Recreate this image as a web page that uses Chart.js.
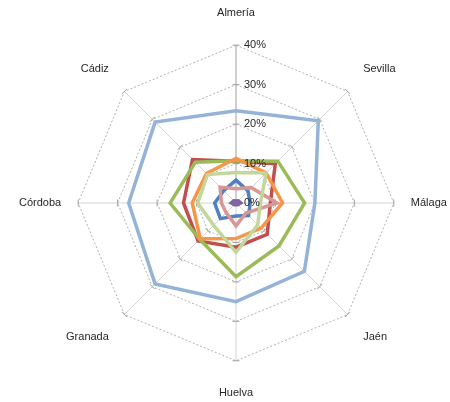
<!DOCTYPE html>
<html>
<head>
<meta charset="utf-8">
<script src="https://cdn.jsdelivr.net/npm/chart.js@4.4.1/dist/chart.umd.min.js"></script>
<style>
  html, body { margin: 0; padding: 0; background: #fff; }
  #wrap { width: 450px; height: 402px; }
</style>
</head>
<body>
<div id="wrap"><canvas id="radar"></canvas></div>
<script>
// Provincias (ejes, en sentido horario desde arriba)
const provincias = ['Almería', 'Sevilla', 'Málaga', 'Jaén', 'Huelva', 'Granada', 'Córdoba', 'Cádiz'];
const valoresEje = [0, 10, 20, 30, 40];

// Series (en %), en el orden de Excel
const serieAzul        = [5.8, 4.3, 3.6, 4.5, 3.3, 5.6, 5.4, 4.4];
const serieRoja        = [10.6, 14.1, 8.7, 11.2, 11.2, 13.6, 13.3, 15.6];
const serieVerde       = [10.7, 15.0, 17.4, 15.4, 18.7, 13.0, 16.7, 14.6];
const serieMorada      = [0.5, 0.8, 1.2, 0.6, 0.4, 0.6, 1.2, 0.8];
const serieNaranja     = [11.3, 10.8, 11.8, 9.0, 9.0, 12.8, 11.1, 10.6];
const serieAzulClaro   = [23.4, 29.5, 20.0, 24.5, 25.0, 29.0, 27.2, 29.0];
const serieRosa        = [3.6, 5.5, 10.4, 3.6, 5.8, 3.5, 3.7, 5.7];
const serieVerdeClaro  = [7.7, 10.8, 6.2, 7.8, 12.5, 8.0, 9.7, 10.2];

const series = [
    { datos: serieAzul, color: '#4F81BD' },
    { datos: serieRoja, color: '#C0504D' },
    { datos: serieVerde, color: '#9BBB59' },
    { datos: serieMorada, color: '#8064A2' },
    { datos: serieNaranja, color: '#F79646' },
    { datos: serieAzulClaro, color: '#95B3D7' },
    { datos: serieRosa, color: '#D99694' },
    { datos: serieVerdeClaro, color: '#C3D69B' }
];

const fuente = '"Liberation Sans", Arial, sans-serif';

// Marcas y etiquetas del eje de valores (estilo Excel)
const ejeValores = {
    id: 'ejeValores',
    beforeDatasetsDraw(chart) {
        const s = chart.scales.r;
        const ctx = chart.ctx;
        ctx.save();
        // eje vertical algo más marcado
        ctx.strokeStyle = '#B4B4B4';
        ctx.lineWidth = 1;
        const arriba = s.getPointPosition(0, s.drawingArea);
        ctx.beginPath();
        ctx.moveTo(arriba.x, arriba.y);
        ctx.lineTo(s.xCenter, s.yCenter);
        ctx.stroke();

        ctx.strokeStyle = '#A0A0A0';
        provincias.forEach((p, i) => {
            valoresEje.forEach(v => {
                if (v === 0) return;
                const pt = s.getPointPosition(i, s.getDistanceFromCenterForValue(v));
                const nx = -Math.sin(pt.angle), ny = Math.cos(pt.angle);
                ctx.beginPath();
                ctx.moveTo(pt.x - nx * 3.5, pt.y - ny * 3.5);
                ctx.lineTo(pt.x + nx * 3.5, pt.y + ny * 3.5);
                ctx.stroke();
            });
        });
        ctx.restore();
    },
    afterDatasetsDraw(chart) {
        const s = chart.scales.r;
        const ctx = chart.ctx;
        ctx.save();
        ctx.font = '11px ' + fuente;
        ctx.fillStyle = '#262626';
        ctx.textAlign = 'left';
        ctx.textBaseline = 'middle';
        s.ticks.forEach(t => {
            const d = s.getDistanceFromCenterForValue(t.value);
            ctx.fillText(t.label, s.xCenter + 8, s.yCenter - d);
        });
        ctx.restore();
    }
};

document.addEventListener('DOMContentLoaded', function() {
    const ctx = document.getElementById('radar');
    new Chart(ctx, {
        type: 'radar',
        data: {
            labels: provincias,
            datasets: series.map((s, i) => ({
                data: s.datos,
                borderColor: s.color,
                backgroundColor: 'transparent',
                borderWidth: 3.5,
                pointRadius: 0,
                fill: false,
                order: -i
            }))
        },
        options: {
            responsive: true,
            maintainAspectRatio: false,
            animation: false,
            layout: { padding: { left: 16, top: 5, right: 0, bottom: 0 } },
            plugins: {
                legend: { display: false },
                tooltip: { enabled: false }
            },
            elements: { line: { tension: 0 } },
            scales: {
                r: {
                    min: valoresEje[0],
                    max: valoresEje[valoresEje.length - 1],
                    ticks: {
                        stepSize: 10,
                        display: false,
                        callback: function(value) { return value + '%'; }
                    },
                    grid: { color: '#B0B0B0', lineWidth: 1 },
                    border: { dash: [2, 2] },
                    angleLines: { color: '#D4D4D4', lineWidth: 1 },
                    pointLabels: {
                        color: '#262626',
                        font: { family: fuente, size: 11 },
                        padding: function(c) {
                            if (c.index === 0 || c.index === 4) return 26;
                            return c.index % 2 ? 22 : 17;
                        }
                    }
                }
            }
        },
        plugins: [ejeValores]
    });
});
</script>
</body>
</html>
